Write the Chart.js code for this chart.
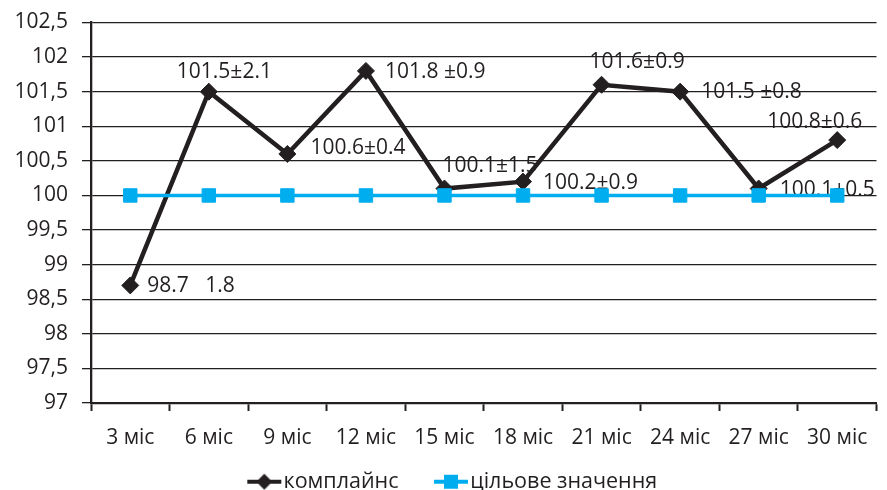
<!DOCTYPE html>
<html><head><meta charset="utf-8">
<script src="https://cdn.jsdelivr.net/npm/chart.js@4"></script>
<style>html,body{margin:0;padding:0;background:#fff;}#wrap{width:887px;height:490px;}</style>
</head><body><div id="wrap"><canvas id="c" width="887" height="490"></canvas></div>
<script>
const categories = ['3 міс','6 міс','9 міс','12 міс','15 міс','18 міс','21 міс','24 міс','27 міс','30 міс'];
const compliance = [98.7, 101.5, 100.6, 101.8, 100.1, 100.2, 101.6, 101.5, 100.1, 100.8];
const target = [100, 100, 100, 100, 100, 100, 100, 100, 100, 100];
const complianceLabels = ['98.7   1.8','101.5±2.1','100.6±0.4','101.8 ±0.9','100.1±1.5','100.2±0.9','101.6±0.9','101.5 ±0.8','100.1±0.5','100.8±0.6'];
const yTickLabels = ['97','97,5','98','98,5','99','99,5','100','100,5','101','101,5','102','102,5'];
const seriesNames = ['комплайнс','цільове значення'];

const INK = '#231f20';
const CYAN = '#00aeef';
const FONT = '"Open Sans", "DejaVu Sans", sans-serif';

// per-label placement relative to its point (dx, dy)
const labelLayout = [[17,1],[-32,-20],[23,-6],[19,1],[-2,-23],[20,1],[-12,-23],[21,0],[21,1],[-70,-18]];

function legendIcon(color, shape) {
  const c = document.createElement('canvas');
  c.width = 74; c.height = 20;
  const g = c.getContext('2d');
  const a = 34;
  g.strokeStyle = color; g.lineWidth = 4;
  g.beginPath(); g.moveTo(a, 10); g.lineTo(a + 34, 10); g.stroke();
  g.fillStyle = color;
  g.beginPath();
  if (shape === 'diamond') {
    g.moveTo(a + 17, 2); g.lineTo(a + 25, 10); g.lineTo(a + 17, 18); g.lineTo(a + 9, 10); g.closePath();
  } else {
    g.rect(a + 10, 3, 14, 14);
  }
  g.fill();
  return c;
}
const icons = [legendIcon(INK, 'diamond'), legendIcon(CYAN, 'square')];

const labelPlugin = {
  id: 'pointLabels',
  beforeDatasetsDraw(chart) {
    const ctx = chart.ctx;
    const meta = chart.getDatasetMeta(0);
    ctx.save();
    ctx.font = '21px ' + FONT;
    ctx.fillStyle = INK;
    ctx.textAlign = 'left';
    ctx.textBaseline = 'middle';
    meta.data.forEach((pt, i) => {
      const [dx, dy] = labelLayout[i];
      ctx.fillText(complianceLabels[i], pt.x + dx, pt.y + dy);
    });
    ctx.restore();
  }
};

new Chart(document.getElementById('c'), {
  type: 'line',
  data: {
    labels: categories,
    datasets: [
      {
        label: seriesNames[0], data: compliance, order: 1,
        borderColor: INK, backgroundColor: INK, borderWidth: 4.5,
        pointStyle: 'rectRot', pointRadius: 8.5, pointBorderWidth: 1,
        pointBackgroundColor: INK, pointBorderColor: INK, tension: 0
      },
      {
        label: seriesNames[1], data: target, order: 0,
        borderColor: CYAN, backgroundColor: CYAN, borderWidth: 3.5,
        pointStyle: 'rect', pointRadius: 9.5, pointBorderWidth: 1,
        pointBackgroundColor: CYAN, pointBorderColor: CYAN, tension: 0
      }
    ]
  },
  options: {
    responsive: false,
    animation: false,
    devicePixelRatio: 1,
    layout: { padding: { left: 0, right: 2, top: 22.5, bottom: 0 } },
    plugins: {
      tooltip: { enabled: false },
      legend: {
        position: 'bottom',
        maxHeight: 35,
        labels: {
          usePointStyle: true,
          pointStyleWidth: 45,
          padding: 16,
          color: INK,
          font: { family: FONT, size: 21.5 },
          sort: (a, b) => a.datasetIndex - b.datasetIndex,
          generateLabels(chart) {
            const items = Chart.defaults.plugins.legend.labels.generateLabels(chart);
            items.forEach(it => { it.pointStyle = icons[it.datasetIndex]; });
            return items;
          }
        }
      }
    },
    scales: {
      x: {
        type: 'category',
        offset: true,
        afterFit(s) { s.height = 52; },
        grid: { display: true, drawOnChartArea: false, drawTicks: true, tickLength: 8, tickColor: INK, tickWidth: 2, offset: true },
        border: { display: true, color: INK, width: 2.3 },
        ticks: { color: INK, font: { family: FONT, size: 21 }, padding: 14, maxRotation: 0, autoSkip: false }
      },
      y: {
        min: 97, max: 102.5,
        afterFit(s) { s.width = 91; s.paddingTop = 0; s.paddingBottom = 0; },
        ticks: {
          stepSize: 0.5, color: INK, font: { family: FONT, size: 21 }, padding: 14,
          callback: (v, i) => yTickLabels[i]
        },
        grid: { color: INK, lineWidth: 1.3, tickLength: 9, tickColor: INK, tickWidth: 1.3 },
        border: { display: true, color: INK, width: 2.3 }
      }
    }
  },
  plugins: [labelPlugin]
});
</script></body></html>
